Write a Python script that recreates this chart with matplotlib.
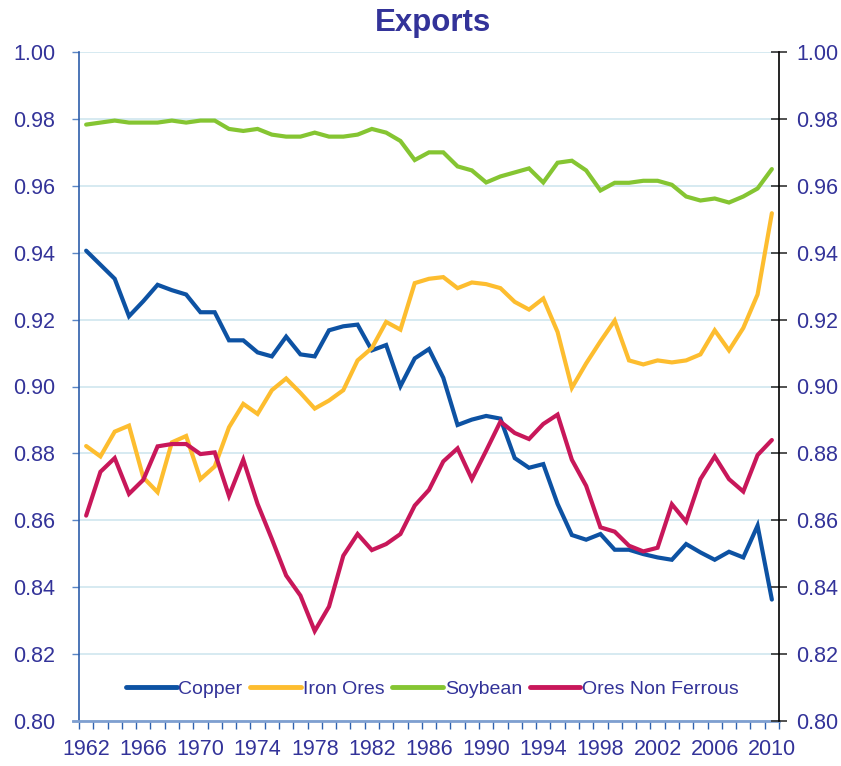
import matplotlib
matplotlib.use("Agg")
import matplotlib.pyplot as plt
from matplotlib.lines import Line2D
import numpy as np

years = list(range(1962, 2011))

copper = [0.9406, 0.9364, 0.9322, 0.9210, 0.9255, 0.9304, 0.9288, 0.9275, 0.9222, 0.9222,
          0.9138, 0.9138, 0.9102, 0.9090, 0.9149, 0.9096, 0.9090, 0.9168, 0.9180, 0.9185,
          0.9108, 0.9124, 0.9001, 0.9084, 0.9112, 0.9026, 0.8885, 0.8901, 0.8912, 0.8904,
          0.8786, 0.8757, 0.8768, 0.8649, 0.8556, 0.8542, 0.8559, 0.8512, 0.8512, 0.8499,
          0.8489, 0.8482, 0.8529, 0.8504, 0.8482, 0.8506, 0.8489, 0.8584, 0.8363]

iron_ores = [0.8822, 0.8791, 0.8865, 0.8883, 0.8728, 0.8684, 0.8833, 0.8852, 0.8723, 0.8761,
             0.8878, 0.8948, 0.8918, 0.8989, 0.9024, 0.8981, 0.8934, 0.8958, 0.8989, 0.9078,
             0.9115, 0.9193, 0.9170, 0.9309, 0.9322, 0.9327, 0.9294, 0.9311, 0.9306, 0.9294,
             0.9253, 0.9230, 0.9263, 0.9163, 0.8996, 0.9069, 0.9135, 0.9197, 0.9078, 0.9066,
             0.9078, 0.9072, 0.9078, 0.9096, 0.9168, 0.9108, 0.9175, 0.9275, 0.9518]

soybean = [0.9783, 0.9789, 0.9795, 0.9789, 0.9789, 0.9789, 0.9795, 0.9789, 0.9795, 0.9795,
           0.9770, 0.9764, 0.9770, 0.9753, 0.9747, 0.9747, 0.9759, 0.9747, 0.9747, 0.9753,
           0.9770, 0.9759, 0.9734, 0.9677, 0.9700, 0.9700, 0.9658, 0.9646, 0.9610, 0.9628,
           0.9640, 0.9652, 0.9610, 0.9669, 0.9675, 0.9646, 0.9586, 0.9609, 0.9609, 0.9615,
           0.9615, 0.9603, 0.9568, 0.9556, 0.9562, 0.9550, 0.9568, 0.9592, 0.9650]

ores_non_ferrous = [0.8614, 0.8745, 0.8786, 0.8679, 0.8721, 0.8821, 0.8828, 0.8828, 0.8798, 0.8803,
                    0.8673, 0.8781, 0.8649, 0.8544, 0.8435, 0.8375, 0.8269, 0.8342, 0.8494, 0.8559,
                    0.8511, 0.8529, 0.8559, 0.8644, 0.8691, 0.8776, 0.8815, 0.8723, 0.8808, 0.8895,
                    0.8861, 0.8843, 0.8888, 0.8916, 0.8781, 0.8703, 0.8579, 0.8566, 0.8524, 0.8507,
                    0.8518, 0.8648, 0.8596, 0.8723, 0.8791, 0.8723, 0.8686, 0.8795, 0.8840]

series_names = ["Copper", "Iron Ores", "Soybean", "Ores Non Ferrous"]
series_colors = ["#0D52A3", "#FDBD2F", "#85C532", "#C8175A"]

y_ticks = [0.80, 0.82, 0.84, 0.86, 0.88, 0.90, 0.92, 0.94, 0.96, 0.98, 1.00]
x_tick_years = list(range(1962, 2011, 4))

TXT = "#333399"
plt.rcParams['font.family'] = ['Liberation Sans', 'DejaVu Sans']

fig = plt.figure(figsize=(8.41, 7.66), dpi=100)
ax = fig.add_axes([79/841, 1 - 721/766, 700/841, 669/766])

for name, vals, col in zip(series_names, [copper, iron_ores, soybean, ores_non_ferrous], series_colors):
    ax.plot(years, vals, color=col, lw=3.0, label=name, solid_joinstyle='miter', solid_capstyle='round')

ax.set_xlim(1961.5, 2010.5)
ax.set_ylim(0.80, 1.00)
ax.set_yticks(y_ticks)
ax.set_yticklabels([f"{v:.2f}" for v in y_ticks])
ax.grid(axis='y', color="#CFE6EF", lw=1.2)
ax.set_axisbelow(True)

ax.set_xticks(x_tick_years)
ax.set_xticklabels([str(y) for y in x_tick_years])
ax.set_xticks(np.arange(1961.5, 2011.0, 1.0), minor=True)
ax.tick_params(axis='x', which='major', length=0, pad=13, labelsize=15.5, labelcolor=TXT)
ax.tick_params(axis='x', which='minor', length=6, width=1, color="#2F62B0", direction='out')
ax.tick_params(axis='y', which='major', length=5, width=1, color="#5B86C5", direction='out',
               pad=12, labelsize=15.5, labelcolor=TXT)

for s in ['top', 'right', 'bottom']:
    ax.spines[s].set_visible(False)
ax.spines['left'].set_color("#2D5DAA")
ax.spines['left'].set_linewidth(1.2)

# bottom axis line extending slightly left of the left spine
ax.add_line(Line2D([-6/700, 1.0], [0, 0], transform=ax.transAxes, color="#7F9FD0",
                   lw=2, clip_on=False, zorder=5))

ax2 = ax.twinx()
ax2.set_ylim(0.80, 1.00)
ax2.set_yticks(y_ticks)
ax2.set_yticklabels([f"{v:.2f}" for v in y_ticks])
ax2.tick_params(axis='y', length=11, width=1.2, color="#333333", direction='inout',
                pad=7, labelsize=15.5, labelcolor=TXT)
for s in ['top', 'left', 'bottom']:
    ax2.spines[s].set_visible(False)
ax2.spines['right'].set_color("black")
ax2.spines['right'].set_linewidth(1.2)

leg = ax.legend(loc='center', bbox_to_anchor=(0.505, 0.048), ncol=4, frameon=False,
                fontsize=14, handlelength=2.6, handletextpad=0.1, columnspacing=0.4,
                labelcolor=TXT)
for h in leg.get_lines():
    h.set_linewidth(3.5)

fig.text(0.515, 1 - 23/766, "Exports", ha='center', va='center', fontsize=22.5,
         fontweight='bold', color=TXT)

fig.savefig("out.png", dpi=100)
